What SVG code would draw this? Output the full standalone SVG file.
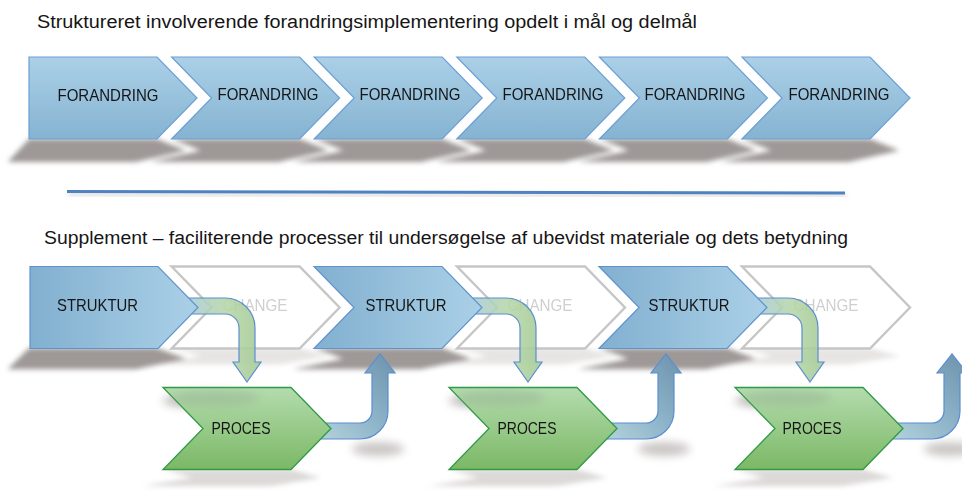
<svg xmlns="http://www.w3.org/2000/svg" xmlns:xlink="http://www.w3.org/1999/xlink" width="962" height="493" viewBox="0 0 962 493">
<style>
text{font-family:"Liberation Sans",Arial,sans-serif;fill:#151515}
.title{font-size:18px}
.lbl{font-size:16.5px;text-anchor:middle}
.ghost{font-size:16.5px;text-anchor:middle;fill:#cfcfcf}
.blue{fill:url(#gTop);stroke:#6b9fd6;stroke-width:1.2}
.str{fill:url(#gStr);stroke:#5f93cf;stroke-width:1.2}
.grn{fill:url(#gGrn);stroke:#2f9a45;stroke-width:1.3}
.gh{fill:#fff;stroke:#c6c6c6;stroke-width:2.4}
.sh{fill:#9e9896}
.shl{fill:#b9b4b2}
.dn{fill:url(#gDn);stroke:#5b8ed0;stroke-width:1.2;fill-opacity:0.88}
.up{fill:url(#gUp);stroke:#5b8ed0;stroke-width:1.2}
</style>
<defs>
<path id="chev" d="M0,0H128L168,41L128,82H0L40,41Z"/>
<path id="pent" d="M0,0H128L168,41L128,82H0Z"/>
<linearGradient id="gTop" x1="0" y1="0" x2="0" y2="1"><stop offset="0" stop-color="#abd0e7"/><stop offset="1" stop-color="#85b3d1"/></linearGradient>
<linearGradient id="gStr" x1="0" y1="0" x2="1" y2="0"><stop offset="0" stop-color="#82b0d0"/><stop offset="1" stop-color="#aad0e7"/></linearGradient>
<linearGradient id="gGrn" x1="0" y1="0" x2="0" y2="1"><stop offset="0" stop-color="#b4dcae"/><stop offset="1" stop-color="#7bb865"/></linearGradient>
<linearGradient id="gDn" x1="0" y1="0" x2="1" y2="0"><stop offset="0" stop-color="#a5c9e0"/><stop offset="0.55" stop-color="#b6d6a8"/><stop offset="1" stop-color="#a3ca94"/></linearGradient>
<linearGradient id="gUp" x1="0" y1="1" x2="1" y2="0"><stop offset="0" stop-color="#b5d3dc"/><stop offset="0.5" stop-color="#8db3c9"/><stop offset="1" stop-color="#6c92ac"/></linearGradient>
<filter id="blur" x="-10%" y="-50%" width="120%" height="200%"><feGaussianBlur stdDeviation="2.6"/></filter>
<filter id="blur2" x="-30%" y="-100%" width="160%" height="300%"><feGaussianBlur stdDeviation="4"/></filter>
</defs>

<g id="titles">
<text class="title" x="37" y="28" textLength="660" lengthAdjust="spacingAndGlyphs">Struktureret involverende forandringsimplementering opdelt i mål og delmål</text>
<text class="title" x="44" y="244" textLength="804" lengthAdjust="spacingAndGlyphs">Supplement – faciliterende processer til undersøgelse af ubevidst materiale og dets betydning</text>
</g>

<g id="shadows" filter="url(#blur)">
<use href="#pent" class="sh" transform="translate(29,139) matrix(1,0,-0.26,0.28,0,0)"/>
<use href="#chev" class="sh" transform="translate(171.6,139) matrix(1,0,-0.26,0.28,0,0)"/>
<use href="#chev" class="sh" transform="translate(314.2,139) matrix(1,0,-0.26,0.28,0,0)"/>
<use href="#chev" class="sh" transform="translate(456.8,139) matrix(1,0,-0.26,0.28,0,0)"/>
<use href="#chev" class="sh" transform="translate(599.4,139) matrix(1,0,-0.26,0.28,0,0)"/>
<use href="#chev" class="sh" transform="translate(742,139) matrix(1,0,-0.26,0.28,0,0)"/>
<use href="#pent" class="sh" transform="translate(29,348) matrix(1,0,-0.26,0.26,0,0)"/>
<use href="#chev" class="sh" transform="translate(314,348) matrix(1,0,-0.26,0.26,0,0)"/>
<use href="#chev" class="sh" transform="translate(599,348) matrix(1,0,-0.26,0.26,0,0)"/>
<use href="#chev" class="shl" opacity="0.35" transform="translate(171.6,348) matrix(1,0,-0.25,0.2,0,0)"/>
<use href="#chev" class="shl" opacity="0.35" transform="translate(457,348) matrix(1,0,-0.25,0.2,0,0)"/>
<use href="#chev" class="shl" opacity="0.35" transform="translate(742,348) matrix(1,0,-0.25,0.2,0,0)"/>
<use href="#chev" class="shl" opacity="0.5" transform="translate(163,469.5) matrix(1,0,-0.25,0.2,0,0)"/>
<use href="#chev" class="shl" opacity="0.5" transform="translate(449,469.5) matrix(1,0,-0.25,0.2,0,0)"/>
<use href="#chev" class="shl" opacity="0.5" transform="translate(735,469.5) matrix(1,0,-0.25,0.2,0,0)"/>
</g>
<g id="softshadows" filter="url(#blur2)" opacity="0.55">
<ellipse cx="378" cy="449" rx="26" ry="7" class="sh"/>
<ellipse cx="664" cy="449" rx="26" ry="7" class="sh"/>
<ellipse cx="950" cy="449" rx="26" ry="7" class="sh"/>
<ellipse cx="200" cy="401" rx="38" ry="7" class="sh"/>
<ellipse cx="486" cy="401" rx="38" ry="7" class="sh"/>
<ellipse cx="772" cy="401" rx="38" ry="7" class="sh"/>
</g>

<g id="f1"><use href="#pent" class="blue" transform="translate(29,57)"/><text class="lbl" x="108" y="101" textLength="101" lengthAdjust="spacingAndGlyphs">FORANDRING</text></g>
<g id="f2"><use href="#chev" class="blue" transform="translate(171.6,57)"/><text class="lbl" x="268" y="100" textLength="101" lengthAdjust="spacingAndGlyphs">FORANDRING</text></g>
<g id="f3"><use href="#chev" class="blue" transform="translate(314.2,57)"/><text class="lbl" x="410" y="100" textLength="101" lengthAdjust="spacingAndGlyphs">FORANDRING</text></g>
<g id="f4"><use href="#chev" class="blue" transform="translate(456.8,57)"/><text class="lbl" x="553" y="100" textLength="101" lengthAdjust="spacingAndGlyphs">FORANDRING</text></g>
<g id="f5"><use href="#chev" class="blue" transform="translate(599.4,57)"/><text class="lbl" x="695" y="100" textLength="101" lengthAdjust="spacingAndGlyphs">FORANDRING</text></g>
<g id="f6"><use href="#chev" class="blue" transform="translate(742,57)"/><text class="lbl" x="839" y="100" textLength="101" lengthAdjust="spacingAndGlyphs">FORANDRING</text></g>

<g id="divider">
<line x1="68" y1="194" x2="846" y2="195.5" stroke="#b5aeac" stroke-width="2.5" filter="url(#blur)" opacity="0.7"/>
<line x1="67" y1="191.5" x2="845" y2="193" stroke="#4f82c0" stroke-width="3"/>
</g>

<g id="c1"><use href="#chev" class="gh" transform="translate(171.6,266.5)"/><text class="ghost" x="255" y="310.5" textLength="65" lengthAdjust="spacingAndGlyphs">CHANGE</text></g>
<g id="c2"><use href="#chev" class="gh" transform="translate(457,266.5)"/><text class="ghost" x="540" y="310.5" textLength="65" lengthAdjust="spacingAndGlyphs">CHANGE</text></g>
<g id="c3"><use href="#chev" class="gh" transform="translate(742,266.5)"/><text class="ghost" x="826" y="310.5" textLength="65" lengthAdjust="spacingAndGlyphs">CHANGE</text></g>

<g id="connectors">
<path class="dn" d="M180,298H225A30,30 0 0 1 255,328V362H261L247,382L233,362H239V328A14,14 0 0 0 225,314H180Z"/>
<path class="dn" d="M465,298H506A30,30 0 0 1 536,328V362H542L528,382L514,362H520V328A14,14 0 0 0 506,314H465Z"/>
<path class="dn" d="M750,298H788A30,30 0 0 1 818,328V362H824L810,382L796,362H802V328A14,14 0 0 0 788,314H750Z"/>
<path class="up" d="M315,423H360A12,12 0 0 0 372,411V373H365L380,354L395,373H388V411A28,28 0 0 1 360,439H315Z"/>
<path class="up" d="M601,423H646A12,12 0 0 0 658,411V373H651L666,354L681,373H674V411A28,28 0 0 1 646,439H601Z"/>
<path class="up" d="M887,423H932A12,12 0 0 0 944,411V373H937L952,354L967,373H960V411A28,28 0 0 1 932,439H887Z"/>
</g>

<g id="s1"><use href="#pent" class="str" transform="translate(30,266.5)"/><text class="lbl" x="97.5" y="310.5" textLength="81" lengthAdjust="spacingAndGlyphs">STRUKTUR</text></g>
<g id="s2"><use href="#chev" class="str" transform="translate(314,266.5)"/><text class="lbl" x="406" y="310.5" textLength="81" lengthAdjust="spacingAndGlyphs">STRUKTUR</text></g>
<g id="s3"><use href="#chev" class="str" transform="translate(599,266.5)"/><text class="lbl" x="689" y="310.5" textLength="81" lengthAdjust="spacingAndGlyphs">STRUKTUR</text></g>

<g id="p1"><use href="#chev" class="grn" transform="translate(163,387.5)"/><ellipse cx="215" cy="398" rx="45" ry="8" fill="#8d9a8a" opacity="0.3" filter="url(#blur2)"/><text class="lbl" x="241" y="434" textLength="59" lengthAdjust="spacingAndGlyphs">PROCES</text></g>
<g id="p2"><use href="#chev" class="grn" transform="translate(449,387.5)"/><ellipse cx="501" cy="398" rx="45" ry="8" fill="#8d9a8a" opacity="0.3" filter="url(#blur2)"/><text class="lbl" x="527" y="434" textLength="59" lengthAdjust="spacingAndGlyphs">PROCES</text></g>
<g id="p3"><use href="#chev" class="grn" transform="translate(735,387.5)"/><ellipse cx="787" cy="398" rx="45" ry="8" fill="#8d9a8a" opacity="0.3" filter="url(#blur2)"/><text class="lbl" x="812" y="434" textLength="59" lengthAdjust="spacingAndGlyphs">PROCES</text></g>
</svg>
